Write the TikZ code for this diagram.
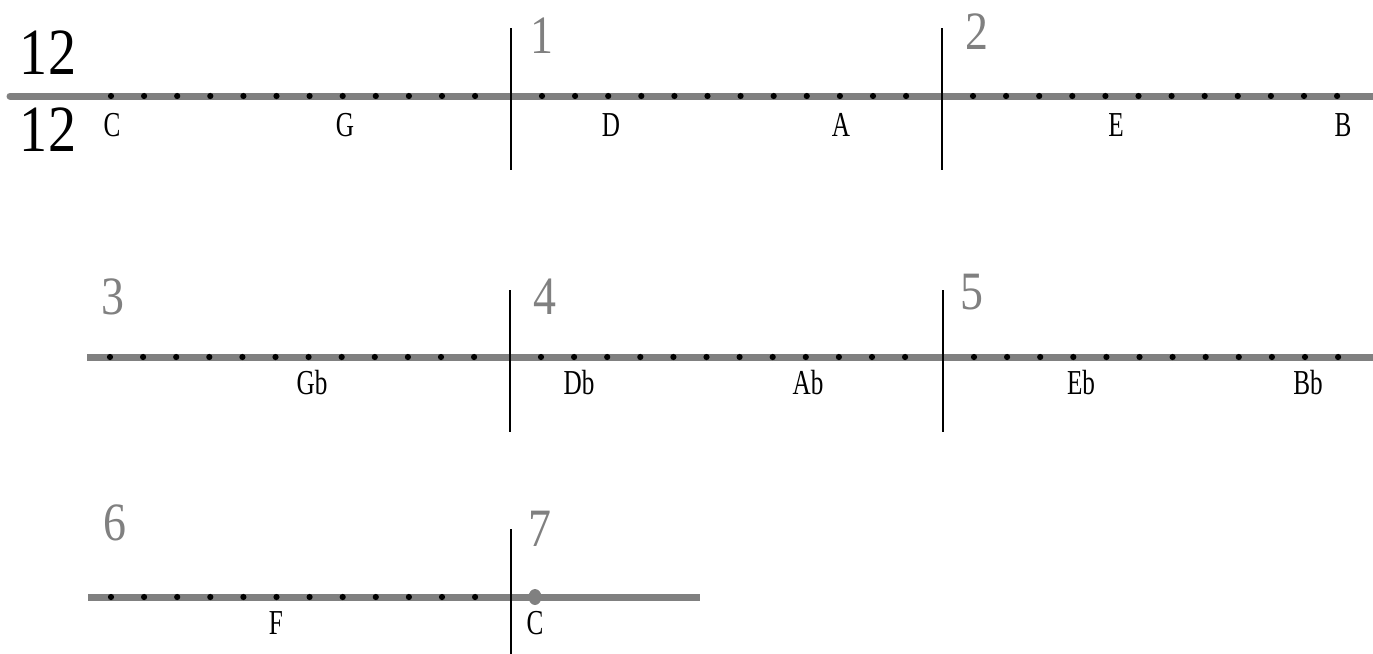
\documentclass[tikz,border=0pt]{standalone}
\usepackage{fontspec}
\setmainfont{Liberation Serif}
\usepackage{graphicx}
\usetikzlibrary{shapes.geometric}
\definecolor{staffgray}{RGB}{128,128,128}
\definecolor{numgray}{RGB}{128,128,128}
\newcommand{\nlab}[1]{\scalebox{0.72}[1]{#1}}
\newcommand{\mlab}[1]{\scalebox{0.85}[1]{#1}}
\begin{document}
\begin{tikzpicture}[x=0.5pt,y=-0.5pt,
  staff/.style={draw=staffgray,line width=3.5pt},
  barline/.style={draw=black,line width=0.7pt},
  beat/.style={circle,fill=black,inner sep=0pt,minimum size=3.1pt},
  notelabel/.style={inner sep=0pt,font=\fontsize{17.5}{19}\selectfont},
  mnum/.style={inner sep=0pt,text=numgray,font=\fontsize{27}{29}\selectfont},
  tsig/.style={inner sep=0pt,font=\fontsize{33}{35}\selectfont}]
\useasboundingbox (0,0) rectangle (1373,654);
% staves
\coordinate (s1a) at (10,96); \coordinate (s1b) at (1373,96);
\coordinate (s2a) at (87,357); \coordinate (s2b) at (1373,357);
\coordinate (s3a) at (88,597); \coordinate (s3b) at (700,597);
\draw[staff,line cap=round] (s1a) -- (s1b);
\draw[staff] (s2a) -- (s2b);
\draw[staff] (s3a) -- (s3b);
% bar lines
\coordinate (b1t) at (511,28); \coordinate (b1b) at (511,170);
\coordinate (b2t) at (942,28); \coordinate (b2b) at (942,170);
\coordinate (b4t) at (510,290); \coordinate (b4b) at (510,432);
\coordinate (b5t) at (943,290); \coordinate (b5b) at (943,432);
\coordinate (b7t) at (511,529); \coordinate (b7b) at (511,654);
\draw[barline] (b1t) -- (b1b);
\draw[barline] (b2t) -- (b2b);
\draw[barline] (b4t) -- (b4b);
\draw[barline] (b5t) -- (b5b);
\draw[barline] (b7t) -- (b7b);
% beats
\foreach \m/\sx/\yy in {0/80/96,1/511/96,2/942/96,3/79/357,4/510/357,5/943/357,6/80/597}{
  \foreach \k in {1,...,12}{
    \node[beat] (d\m-\k) at ({\sx+31+33.1*(\k-1)},\yy) {};
  }
}
\node[ellipse,fill=staffgray,inner sep=0pt,minimum width=6.5pt,minimum height=8pt] (d7-1) at (535,597) {};
% time signature
\node[tsig] (tsT) at (48,53) {\mlab{12}};
\node[tsig] (tsB) at (48,130) {\mlab{12}};
% measure numbers
\node[mnum] (m1) at (542,36) {\mlab{1}};
\node[mnum] (m2) at (977,32) {\mlab{2}};
\node[mnum] (m3) at (113,297) {\mlab{3}};
\node[mnum] (m4) at (545,297) {\mlab{4}};
\node[mnum] (m5) at (972,292) {\mlab{5}};
\node[mnum] (m6) at (115,523) {\mlab{6}};
\node[mnum] (m7) at (540,529) {\mlab{7}};
% note labels
\node[notelabel] (nC) at (112,125) {\nlab{C}};
\node[notelabel] (nG) at (345,125) {\nlab{G}};
\node[notelabel] (nD) at (611,125) {\nlab{D}};
\node[notelabel] (nA) at (841,125) {\nlab{A}};
\node[notelabel] (nE) at (1116,125) {\nlab{E}};
\node[notelabel] (nB) at (1343,125) {\nlab{B}};
\node[notelabel] (nGb) at (312,383) {\nlab{Gb}};
\node[notelabel] (nDb) at (579,383) {\nlab{Db}};
\node[notelabel] (nAb) at (808,383) {\nlab{Ab}};
\node[notelabel] (nEb) at (1081,383) {\nlab{Eb}};
\node[notelabel] (nBb) at (1308,383) {\nlab{Bb}};
\node[notelabel] (nF) at (276,623) {\nlab{F}};
\node[notelabel] (nC2) at (535,623) {\nlab{C}};
\end{tikzpicture}
\end{document}
